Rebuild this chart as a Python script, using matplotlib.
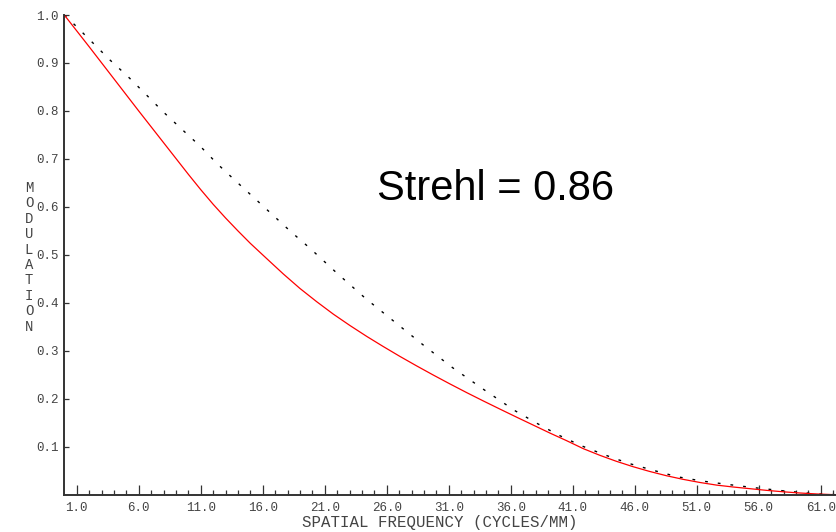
import matplotlib
matplotlib.use("Agg")
import matplotlib.pyplot as plt
from matplotlib.ticker import FixedLocator, FormatStrFormatter

# ---- data ----
freq_poly = [0, 2.0, 4.0, 6.0, 8.0, 10.0, 11.0, 12.0, 13.0, 14.0, 15.0, 16.33, 17.66,
             19.0, 20.35, 21.7, 23.04, 24.4, 25.7, 27.05, 28.4, 29.75, 31.1, 32.45,
             33.8, 35.15, 36.5, 37.85, 39.2, 40.5, 41.85, 43.2, 44.5, 45.85, 47.2,
             48.55, 49.9, 51.25, 52.6, 53.95, 55.3, 56.65, 58.0, 59.35, 60.7, 62.2]
mtf_poly = [1.0, 0.934, 0.867, 0.800, 0.734, 0.668, 0.636, 0.6055, 0.577, 0.550,
            0.524, 0.492, 0.4602, 0.430, 0.4024, 0.3763, 0.3526, 0.3298, 0.3092,
            0.2885, 0.2687, 0.2495, 0.2309, 0.2128, 0.1953, 0.1782, 0.1613, 0.1447,
            0.128, 0.1127, 0.096, 0.082, 0.0698, 0.0585, 0.0485, 0.0396, 0.032,
            0.0255, 0.020, 0.016, 0.0125, 0.009, 0.006, 0.0035, 0.0015, 0.0]

freq_diff = [0, 0.86, 2.26, 3.69, 5.16, 6.56, 7.98, 9.47, 10.94, 12.37, 13.82, 15.3,
             16.77, 18.28, 19.8, 22.0, 24.3, 26.6, 28.95, 31.3, 33.8, 36.35, 38.1,
             39.84, 41.7, 43.6, 45.5, 47.4, 49.4, 51.4, 53.4, 55.5, 58.0, 60.5, 62.2]
mtf_diff = [1.0, 0.979, 0.943, 0.906, 0.871, 0.835, 0.798, 0.762, 0.727, 0.689,
            0.654, 0.619, 0.584, 0.548, 0.514, 0.4615, 0.409, 0.361, 0.312, 0.265,
            0.2197, 0.175, 0.149, 0.1245, 0.102, 0.0828, 0.0654, 0.0515, 0.0375,
            0.0286, 0.0217, 0.015, 0.008, 0.002, 0.0]

x_major = [1.0, 6.0, 11.0, 16.0, 21.0, 26.0, 31.0, 36.0, 41.0, 46.0, 51.0, 56.0, 61.0]
x_minor = list(range(1, 63))
y_major = [0.1, 0.2, 0.3, 0.4, 0.5, 0.6, 0.7, 0.8, 0.9, 1.0]

ylabel = "MODULATION"
xlabel = "SPATIAL FREQUENCY (CYCLES/MM)"
note = "Strehl = 0.86"

# ---- figure ----
plt.rcParams['lines.scale_dashes'] = False
W, H = 836, 532
fig = plt.figure(figsize=(W / 100, H / 100), dpi=100)
ax = fig.add_axes([64.3 / W, (H - 494.7) / H, (W - 64.3) / W, (494.7 - 15) / H])

ax.plot(freq_diff, mtf_diff, color='black', lw=1.0, linestyle=(0, (2.0, 7.2)))
ax.plot(freq_poly, mtf_poly, color='red', lw=0.9)

ax.set_xlim(0, 62.23)
ax.set_ylim(0, 1.0)
for s in ('top', 'right'):
    ax.spines[s].set_visible(False)
for s in ('left', 'bottom'):
    ax.spines[s].set_linewidth(1.4)
    ax.spines[s].set_color('#333333')

ax.xaxis.set_major_locator(FixedLocator(x_major))
ax.xaxis.set_minor_locator(FixedLocator(x_minor))
ax.yaxis.set_major_locator(FixedLocator(y_major))
ax.xaxis.set_major_formatter(FormatStrFormatter('%.1f'))
ax.yaxis.set_major_formatter(FormatStrFormatter('%.1f'))

mono = 'Liberation Mono'
ax.tick_params(axis='x', which='major', direction='in', length=7.2, width=0.9,
               color='#333333', pad=5, labelsize=9, labelcolor='#444444')
ax.tick_params(axis='x', which='minor', direction='in', length=3.6, width=0.9,
               color='#333333')
ax.tick_params(axis='y', which='major', direction='in', length=3.6, width=0.9,
               color='#333333', pad=4, labelsize=9, labelcolor='#444444')
for lab in ax.get_xticklabels() + ax.get_yticklabels():
    lab.set_family(mono)

fig.text(440 / W, 1 - 523 / H, xlabel, family=mono, fontsize=11.3, color='#444444',
         ha='center', va='center')

y0, dy = 188.0, 15.4
for i, ch in enumerate(ylabel):
    fig.text(29 / W, 1 - (y0 + i * dy) / H, ch, family=mono, fontsize=10,
             color='#444444', ha='center', va='center')

fig.text(377 / W, 1 - 200 / H, note, family='Liberation Sans', fontsize=30,
         color='black', ha='left', va='baseline')

fig.savefig('out.png', dpi=100)
